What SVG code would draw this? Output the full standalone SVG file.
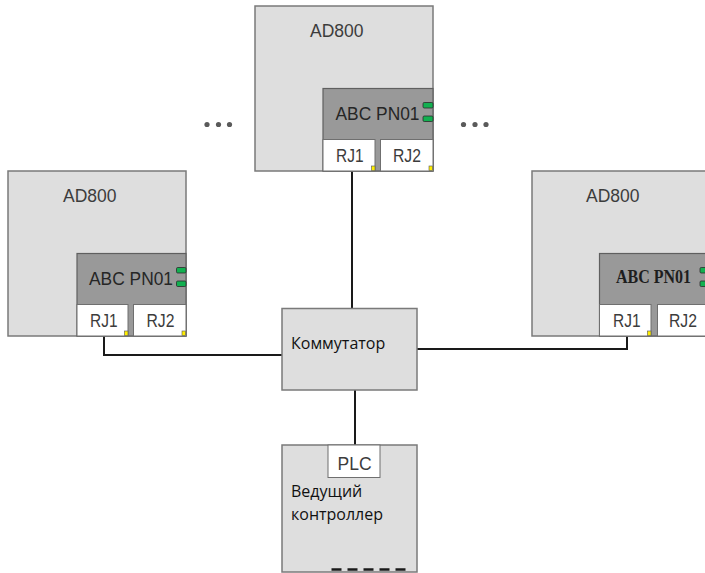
<svg xmlns="http://www.w3.org/2000/svg" width="705" height="573" viewBox="0 0 705 573">
<style>
.outer{fill:#dedede;stroke:#7a7a7a;stroke-width:1.5}
.card{fill:#999999;stroke:#5f5f5f;stroke-width:1.2}
.rj{fill:#ffffff;stroke:#6f6f6f;stroke-width:1}
.led{fill:#12b050;stroke:#2b2b2b;stroke-width:0.8}
.ylw{fill:#ffee00;stroke:#555;stroke-width:0.6}
.t{font-family:"Liberation Sans",Arial,sans-serif;font-size:17.5px;fill:#3c3c3c}
.tc{font-family:"Liberation Sans",Arial,sans-serif;font-size:17.5px;fill:#262626}
.ts{font-family:"Liberation Serif","Times New Roman",serif;font-size:18px;font-weight:bold;fill:#1e1e1e}
.ru{font-family:"Open Sans","DejaVu Sans",sans-serif;font-size:16px;fill:#111}
.conn{fill:none;stroke:#1a1a1a;stroke-width:2}
.dot{fill:#5a5a5a}
</style>
<g id="connectors">
<polyline class="conn" points="104,336 104,355 282,355"/>
<polyline class="conn" points="352,171 352,308"/>
<polyline class="conn" points="627,336 627,349 417,349"/>
<polyline class="conn" points="355,390 355,445"/>
</g>
<g id="ad800-top">
<rect class="outer" x="255" y="6" width="178" height="165"/>
<text class="t" x="310" y="37">AD800</text>
<rect class="card" x="323" y="88.5" width="110" height="82.5"/>
<text class="tc" x="335.5" y="120" textLength="84" lengthAdjust="spacingAndGlyphs">ABC PN01</text>
<rect class="led" x="423" y="102.5" width="10" height="5.5" rx="1.2"/>
<rect class="led" x="423" y="116" width="10" height="5.5" rx="1.2"/>
<rect class="rj" x="323" y="139.5" width="52" height="31.5"/>
<rect class="rj" x="380.5" y="139.5" width="52.5" height="31.5"/>
<text class="t" x="336" y="162" textLength="27.5" lengthAdjust="spacingAndGlyphs">RJ1</text>
<text class="t" x="393" y="162" textLength="28" lengthAdjust="spacingAndGlyphs">RJ2</text>
<rect class="ylw" x="371.5" y="166" width="3.5" height="4.5"/>
<rect class="ylw" x="429" y="166" width="3.5" height="4.5"/>
</g>
<g id="ad800-left">
<rect class="outer" x="8" y="171" width="178" height="165"/>
<text class="t" x="63" y="202">AD800</text>
<rect class="card" x="77" y="253.5" width="109" height="82.5"/>
<text class="tc" x="89" y="285" textLength="84" lengthAdjust="spacingAndGlyphs">ABC PN01</text>
<rect class="led" x="176.5" y="267.5" width="9.5" height="5.5" rx="1.2"/>
<rect class="led" x="176.5" y="281" width="9.5" height="5.5" rx="1.2"/>
<rect class="rj" x="77" y="304.5" width="51" height="31.5"/>
<rect class="rj" x="133.5" y="304.5" width="52.5" height="31.5"/>
<text class="t" x="90" y="327" textLength="27.5" lengthAdjust="spacingAndGlyphs">RJ1</text>
<text class="t" x="146.5" y="327" textLength="28" lengthAdjust="spacingAndGlyphs">RJ2</text>
<rect class="ylw" x="124.5" y="331" width="3.5" height="4.5"/>
<rect class="ylw" x="182" y="331" width="3.5" height="4.5"/>
</g>
<g id="ad800-right">
<rect class="outer" x="532" y="171" width="180" height="165"/>
<text class="t" x="586" y="202">AD800</text>
<rect class="card" x="599.5" y="253.5" width="112" height="82.5"/>
<text class="ts" x="616" y="283" textLength="75" lengthAdjust="spacingAndGlyphs">ABC PN01</text>
<rect class="led" x="700" y="267.5" width="10" height="5.5" rx="1.2"/>
<rect class="led" x="700" y="281" width="10" height="5.5" rx="1.2"/>
<rect class="rj" x="599.5" y="304.5" width="51.5" height="31.5"/>
<rect class="rj" x="657.5" y="304.5" width="52" height="31.5"/>
<text class="t" x="613" y="327" textLength="27.5" lengthAdjust="spacingAndGlyphs">RJ1</text>
<text class="t" x="669" y="327" textLength="28" lengthAdjust="spacingAndGlyphs">RJ2</text>
<rect class="ylw" x="647.5" y="331" width="3.5" height="4.5"/>
</g>
<g id="dots-left">
<circle class="dot" cx="207" cy="124.5" r="2.6"/>
<circle class="dot" cx="218.5" cy="124.5" r="2.6"/>
<circle class="dot" cx="229.5" cy="124.5" r="2.6"/>
</g>
<g id="dots-right">
<circle class="dot" cx="463.5" cy="124.5" r="2.6"/>
<circle class="dot" cx="475" cy="124.5" r="2.6"/>
<circle class="dot" cx="486" cy="124.5" r="2.6"/>
</g>
<g id="switch">
<rect class="outer" x="282" y="308.5" width="135" height="81.5"/>
<text class="ru" x="291" y="349">Коммутатор</text>
</g>
<g id="plc">
<rect class="outer" x="282" y="445" width="135" height="127"/>
<rect class="rj" x="328" y="445" width="52" height="32.5"/>
<text class="t" x="337.5" y="470">PLC</text>
<text class="ru" x="291" y="497">Ведущий</text>
<text class="ru" x="291" y="520">контроллер</text>
<line x1="331.5" y1="569.5" x2="409" y2="569.5" stroke="#1a1a1a" stroke-width="2.5" stroke-dasharray="10,6"/>
</g>
</svg>
